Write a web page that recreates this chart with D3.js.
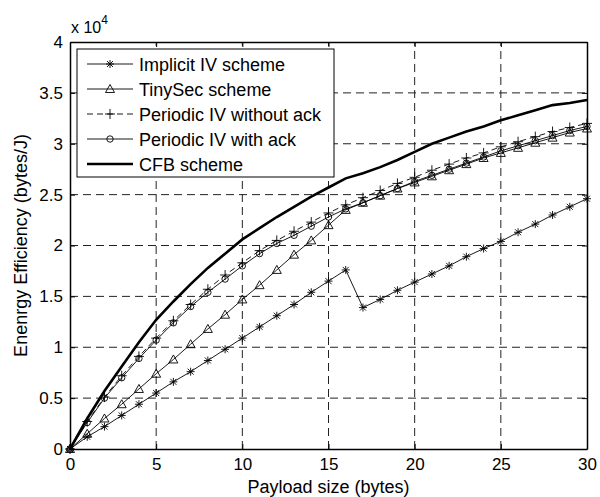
<!DOCTYPE html>
<html>
  <head>
    <meta charset="utf-8">
    <title>energy efficiency</title>
    <style>
      body { margin: 0; background: #fff; }
      text { font-family: Arial, "Liberation Sans", sans-serif; fill: #000; }
    </style>
  </head>
  <body>
    <div class="chart"></div>
    <script src="https://d3js.org/d3.v7.min.js"></script>
    <script>
        var w = 600, h = 497;
        var margin = {left: 70, right: 13, top: 42, bottom: 48};

        // payload sizes 0..30 bytes
        var payload = [0,1,2,3,4,5,6,7,8,9,10,11,12,13,14,15,16,17,18,19,20,21,22,23,24,25,26,27,28,29,30];
        // values in units of 10^4 bytes/J
        var implicitIV = [0,0.12,0.22,0.33,0.44,0.55,0.66,0.76,0.87,0.98,1.09,1.20,1.31,1.42,1.54,1.65,1.76,1.39,1.47,1.56,1.64,1.72,1.80,1.89,1.97,2.04,2.13,2.21,2.30,2.38,2.46];
        var tinySec = [0,0.15,0.30,0.44,0.59,0.74,0.88,1.03,1.18,1.32,1.47,1.61,1.76,1.91,2.05,2.20,2.35,2.42,2.49,2.56,2.62,2.68,2.74,2.80,2.86,2.91,2.96,3.01,3.06,3.11,3.15];
        var periodicNoAck = [0,0.27,0.51,0.72,0.91,1.09,1.26,1.42,1.57,1.71,1.83,1.95,2.05,2.14,2.23,2.32,2.40,2.47,2.54,2.61,2.67,2.74,2.80,2.86,2.91,2.97,3.02,3.07,3.12,3.16,3.20];
        var periodicAck = [0,0.26,0.50,0.70,0.89,1.07,1.24,1.40,1.54,1.67,1.80,1.92,2.02,2.10,2.19,2.28,2.36,2.42,2.49,2.56,2.63,2.69,2.75,2.81,2.87,2.93,2.98,3.03,3.08,3.13,3.17];
        var cfb = [0,0.30,0.57,0.81,1.05,1.27,1.45,1.62,1.78,1.92,2.06,2.17,2.28,2.38,2.48,2.57,2.66,2.71,2.77,2.84,2.92,3.00,3.06,3.12,3.17,3.23,3.28,3.33,3.38,3.40,3.43];

        var seriesNames = ["Implicit IV scheme", "TinySec scheme", "Periodic IV without ack", "Periodic IV with ack", "CFB scheme"];
        var seriesData = [implicitIV, tinySec, periodicNoAck, periodicAck, cfb];
        var markers = ["star", "triangle", "plus", "circle", "none"];

        var xTicks = [0, 5, 10, 15, 20, 25, 30];
        var yTicks = [0, 0.5, 1, 1.5, 2, 2.5, 3, 3.5, 4];

        var x = d3.scaleLinear().domain([0, 30]).range([margin.left, w - margin.right]);
        var y = d3.scaleLinear().domain([0, 4]).range([h - margin.bottom, margin.top]);

        var svg = d3.select(".chart").append("svg")
            .attr("width", w).attr("height", h);

        // grid
        svg.append("g").selectAll("line.vg")
            .data(xTicks.slice(1, -1)).enter().append("line")
            .attr("x1", d => x(d)).attr("x2", d => x(d))
            .attr("y1", y(0)).attr("y2", y(4))
            .attr("stroke", "#222").attr("stroke-dasharray", "8,5");
        svg.append("g").selectAll("line.hg")
            .data(yTicks.slice(1, -1)).enter().append("line")
            .attr("y1", d => y(d)).attr("y2", d => y(d))
            .attr("x1", x(0)).attr("x2", x(30))
            .attr("stroke", "#222").attr("stroke-dasharray", "8,5");

        // axes
        var xAxis = svg.append("g").attr("transform", "translate(0," + y(0) + ")")
            .call(d3.axisBottom(x).tickValues(xTicks).tickSizeInner(-5).tickSizeOuter(0).tickPadding(9));
        var yAxis = svg.append("g").attr("transform", "translate(" + x(0) + ",0)")
            .call(d3.axisLeft(y).tickValues(yTicks).tickSizeInner(-5).tickSizeOuter(0).tickPadding(7)
                .tickFormat(d3.format("~g")));
        svg.append("g").attr("transform", "translate(0," + y(4) + ")")
            .call(d3.axisTop(x).tickValues(xTicks).tickSizeInner(-5).tickSizeOuter(0).tickFormat(""));
        svg.append("g").attr("transform", "translate(" + x(30) + ",0)")
            .call(d3.axisRight(y).tickValues(yTicks).tickSizeInner(-5).tickSizeOuter(0).tickFormat(""));
        svg.selectAll(".domain").attr("stroke", "#000").attr("stroke-width", 1.5);
        svg.selectAll(".tick line").attr("stroke", "#000");
        svg.selectAll(".tick text").attr("font-size", 17).attr("font-family", "Arial, 'Liberation Sans', sans-serif");

        // marker shapes
        function markerPath(type) {
            if (type === "star") return "M-4,0H4M0,-4V4M-3,-3L3,3M-3,3L3,-3";
            if (type === "triangle") return "M0,-4.5L4.5,3.5H-4.5Z";
            if (type === "plus") return "M-5,0H5M0,-5V5";
            return null;
        }

        var line = d3.line().x((d, i) => x(payload[i])).y(d => y(d));

        var g = svg.selectAll(".series").data(seriesData).enter().append("g").attr("class", "series");
        g.append("path")
            .attr("d", d => line(d))
            .attr("fill", "none")
            .attr("stroke", "#000")
            .attr("stroke-width", (d, i) => i === 4 ? 2.6 : 0.9)
            .attr("stroke-dasharray", (d, i) => i === 2 ? "6,4" : null);

        function drawMarker(sel, type) {
            if (type === "none") return;
            if (type === "circle") {
                sel.append("circle").attr("r", 3.2).attr("fill", "none").attr("stroke", "#000").attr("stroke-width", 0.9);
            } else {
                sel.append("path").attr("d", markerPath(type)).attr("fill", "none")
                    .attr("stroke", "#000").attr("stroke-width", 0.9);
            }
        }

        g.each(function(vals, si) {
            var pts = d3.select(this).selectAll(".pt").data(vals).enter().append("g")
                .attr("transform", (d, i) => "translate(" + x(payload[i]) + "," + y(d) + ")");
            drawMarker(pts, markers[si]);
        });

        // labels
        svg.append("text").attr("x", (x(0) + x(30)) / 2).attr("y", 493)
            .attr("text-anchor", "middle").attr("font-size", 18).text("Payload size (bytes)");
        svg.append("text").attr("transform", "translate(27," + ((y(0) + y(4)) / 2) + ") rotate(-90)")
            .attr("text-anchor", "middle").attr("font-size", 18).text("Enenrgy Efficiency (bytes/J)");
        var mult = svg.append("text").attr("x", 71).attr("y", 33).attr("font-size", 16);
        mult.append("tspan").text("x 10");
        mult.append("tspan").attr("dy", -9).attr("font-size", 12).text("4");

        // legend
        var lg = svg.append("g");
        lg.append("rect").attr("x", 77).attr("y", 49).attr("width", 257).attr("height", 128)
            .attr("fill", "#fff").attr("stroke", "#000").attr("stroke-width", 1);
        var rows = lg.selectAll(".lrow").data(seriesNames).enter().append("g")
            .attr("transform", (d, i) => "translate(0," + (64 + i * 25) + ")");
        rows.append("line").attr("x1", 87).attr("x2", 133)
            .attr("stroke", "#000")
            .attr("stroke-width", (d, i) => i === 4 ? 2.6 : 0.9)
            .attr("stroke-dasharray", (d, i) => i === 2 ? "6,4" : null);
        rows.each(function(d, i) {
            var m = d3.select(this).append("g").attr("transform", "translate(110,0)");
            drawMarker(m, markers[i]);
        });
        rows.append("text").attr("x", 139).attr("y", 6.5).attr("font-size", 18).text(d => d);
    </script>
  </body>
</html>
